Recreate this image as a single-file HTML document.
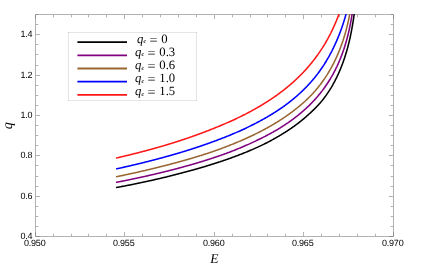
<!DOCTYPE html>
<html><head><meta charset="utf-8"><title>plot</title><style>html,body{margin:0;padding:0;background:#fff;overflow:hidden}svg{display:block;will-change:transform;text-rendering:geometricPrecision}</style></head><body>
<svg width="432" height="269" viewBox="0 0 432 269">
<defs><clipPath id="c"><rect x="35.50" y="14.05" width="358.00" height="222.05"/></clipPath></defs>
<rect width="432" height="269" fill="#fff"/>
<g stroke="#666666" stroke-opacity="0.5" stroke-width="1" fill="none">
<rect x="35.50" y="14.50" width="358.00" height="222.00"/>
<path d="M53.50,236.00 v-2.30 M53.50,15.00 v2.30 M71.50,236.00 v-2.30 M71.50,15.00 v2.30 M88.50,236.00 v-2.30 M88.50,15.00 v2.30 M106.50,236.00 v-2.30 M106.50,15.00 v2.30 M124.50,236.00 v-4.10 M124.50,15.00 v4.10 M142.50,236.00 v-2.30 M142.50,15.00 v2.30 M160.50,236.00 v-2.30 M160.50,15.00 v2.30 M178.50,236.00 v-2.30 M178.50,15.00 v2.30 M196.50,236.00 v-2.30 M196.50,15.00 v2.30 M214.50,236.00 v-4.10 M214.50,15.00 v4.10 M232.50,236.00 v-2.30 M232.50,15.00 v2.30 M250.50,236.00 v-2.30 M250.50,15.00 v2.30 M267.50,236.00 v-2.30 M267.50,15.00 v2.30 M285.50,236.00 v-2.30 M285.50,15.00 v2.30 M303.50,236.00 v-4.10 M303.50,15.00 v4.10 M321.50,236.00 v-2.30 M321.50,15.00 v2.30 M339.50,236.00 v-2.30 M339.50,15.00 v2.30 M357.50,236.00 v-2.30 M357.50,15.00 v2.30 M375.50,236.00 v-2.30 M375.50,15.00 v2.30 M36.00,226.50 h2.30 M393.00,226.50 h-2.30 M36.00,216.50 h2.30 M393.00,216.50 h-2.30 M36.00,206.50 h2.30 M393.00,206.50 h-2.30 M36.00,196.50 h4.10 M393.00,196.50 h-4.10 M36.00,186.50 h2.30 M393.00,186.50 h-2.30 M36.00,176.50 h2.30 M393.00,176.50 h-2.30 M36.00,165.50 h2.30 M393.00,165.50 h-2.30 M36.00,155.50 h4.10 M393.00,155.50 h-4.10 M36.00,145.50 h2.30 M393.00,145.50 h-2.30 M36.00,135.50 h2.30 M393.00,135.50 h-2.30 M36.00,125.50 h2.30 M393.00,125.50 h-2.30 M36.00,115.50 h4.10 M393.00,115.50 h-4.10 M36.00,105.50 h2.30 M393.00,105.50 h-2.30 M36.00,95.50 h2.30 M393.00,95.50 h-2.30 M36.00,85.50 h2.30 M393.00,85.50 h-2.30 M36.00,75.50 h4.10 M393.00,75.50 h-4.10 M36.00,65.50 h2.30 M393.00,65.50 h-2.30 M36.00,54.50 h2.30 M393.00,54.50 h-2.30 M36.00,44.50 h2.30 M393.00,44.50 h-2.30 M36.00,34.50 h4.10 M393.00,34.50 h-4.10 M36.00,24.50 h2.30 M393.00,24.50 h-2.30 M36.00,14.50 h2.00 M36.00,236.50 h3.90 M393.00,14.50 h-2.00 M393.00,236.50 h-3.90 M35.50,236.00 v-3.90 M35.50,15.00 v3.90 M393.50,236.00 v-3.90 M393.50,15.00 v3.90"/>
</g>
<g clip-path="url(#c)" fill="none" stroke-width="1.55" stroke-linejoin="round">
<path d="M116.05,187.58 L116.64,187.47 L117.23,187.36 L117.82,187.25 L118.41,187.15 L119.00,187.04 L119.59,186.93 L120.18,186.82 L120.77,186.71 L121.36,186.59 L121.95,186.48 L122.53,186.37 L123.12,186.26 L123.71,186.15 L124.30,186.04 L124.89,185.92 L125.48,185.81 L126.07,185.70 L126.66,185.58 L127.25,185.47 L127.84,185.35 L128.43,185.24 L129.02,185.12 L129.60,185.00 L130.19,184.89 L130.78,184.77 L131.37,184.65 L131.96,184.53 L132.55,184.42 L133.13,184.30 L133.72,184.18 L134.31,184.06 L134.90,183.94 L135.49,183.82 L136.07,183.70 L136.66,183.57 L137.25,183.45 L137.84,183.33 L138.42,183.21 L139.01,183.09 L139.60,182.96 L140.18,182.84 L140.77,182.71 L141.36,182.59 L141.95,182.47 L142.53,182.34 L143.12,182.22 L143.71,182.09 L144.29,181.96 L144.88,181.84 L145.47,181.71 L146.05,181.58 L146.64,181.46 L147.22,181.33 L147.81,181.20 L148.40,181.07 L148.98,180.94 L149.57,180.81 L150.15,180.68 L150.74,180.55 L151.33,180.42 L151.91,180.29 L152.50,180.16 L153.08,180.03 L153.67,179.90 L154.25,179.76 L154.84,179.63 L155.42,179.50 L156.01,179.36 L156.59,179.23 L157.18,179.10 L157.76,178.96 L158.35,178.83 L158.93,178.69 L159.52,178.56 L160.10,178.42 L160.68,178.28 L161.27,178.15 L161.85,178.01 L162.44,177.87 L163.02,177.73 L163.60,177.59 L164.19,177.45 L164.77,177.31 L165.35,177.17 L165.94,177.03 L166.52,176.89 L167.10,176.75 L167.68,176.60 L168.27,176.46 L168.85,176.31 L169.43,176.17 L170.01,176.02 L170.59,175.87 L171.18,175.72 L171.76,175.57 L172.34,175.42 L172.92,175.27 L173.50,175.12 L174.08,174.97 L174.66,174.82 L175.24,174.67 L175.82,174.51 L176.40,174.36 L176.98,174.21 L177.56,174.05 L178.14,173.90 L178.72,173.75 L179.30,173.60 L179.88,173.44 L180.46,173.29 L181.04,173.14 L181.62,172.98 L182.20,172.83 L182.78,172.68 L183.36,172.53 L183.94,172.37 L184.52,172.22 L185.10,172.07 L185.68,171.92 L186.26,171.76 L186.84,171.61 L187.42,171.46 L188.00,171.30 L188.58,171.15 L189.16,170.99 L189.74,170.84 L190.32,170.68 L190.90,170.53 L191.48,170.37 L192.06,170.21 L192.64,170.06 L193.22,169.90 L193.80,169.74 L194.38,169.58 L194.95,169.42 L195.53,169.26 L196.11,169.09 L196.69,168.93 L197.26,168.77 L197.84,168.60 L198.42,168.44 L198.99,168.27 L199.57,168.10 L200.15,167.93 L200.72,167.76 L201.30,167.59 L201.87,167.42 L202.45,167.25 L203.02,167.08 L203.60,166.91 L204.17,166.74 L204.75,166.56 L205.32,166.39 L205.89,166.21 L206.47,166.04 L207.04,165.86 L207.61,165.68 L208.19,165.50 L208.76,165.33 L209.33,165.15 L209.91,164.97 L210.48,164.79 L211.05,164.61 L211.62,164.43 L212.20,164.25 L212.77,164.07 L213.34,163.89 L213.91,163.71 L214.48,163.53 L215.06,163.35 L215.63,163.16 L216.20,162.98 L216.77,162.80 L217.34,162.61 L217.91,162.43 L218.48,162.24 L219.05,162.06 L219.62,161.87 L220.19,161.68 L220.76,161.50 L221.33,161.31 L221.90,161.12 L222.47,160.93 L223.04,160.74 L223.61,160.55 L224.18,160.35 L224.74,160.16 L225.31,159.96 L225.88,159.77 L226.45,159.57 L227.01,159.37 L227.58,159.18 L228.14,158.98 L228.71,158.78 L229.28,158.57 L229.84,158.37 L230.41,158.17 L230.97,157.97 L231.53,157.76 L232.10,157.56 L232.66,157.35 L233.22,157.14 L233.79,156.94 L234.35,156.73 L234.91,156.52 L235.47,156.31 L236.04,156.10 L236.60,155.89 L237.16,155.67 L237.72,155.46 L238.28,155.25 L238.84,155.03 L239.40,154.81 L239.96,154.60 L240.52,154.38 L241.08,154.16 L241.64,153.94 L242.19,153.72 L242.75,153.50 L243.31,153.28 L243.87,153.05 L244.42,152.83 L244.98,152.61 L245.53,152.38 L246.09,152.15 L246.64,151.93 L247.20,151.70 L247.75,151.47 L248.31,151.24 L248.86,151.01 L249.41,150.77 L249.97,150.54 L250.52,150.31 L251.07,150.07 L251.62,149.84 L252.17,149.60 L252.73,149.36 L253.28,149.12 L253.83,148.88 L254.37,148.64 L254.92,148.40 L255.47,148.15 L256.02,147.91 L256.57,147.66 L257.11,147.41 L257.66,147.17 L258.20,146.92 L258.75,146.66 L259.29,146.41 L259.84,146.16 L260.38,145.90 L260.92,145.64 L261.46,145.39 L262.00,145.13 L262.54,144.86 L263.08,144.60 L263.62,144.34 L264.16,144.07 L264.70,143.80 L265.23,143.53 L265.77,143.26 L266.30,142.99 L266.84,142.72 L267.37,142.44 L267.90,142.16 L268.43,141.89 L268.96,141.61 L269.49,141.32 L270.02,141.04 L270.55,140.76 L271.08,140.47 L271.61,140.19 L272.13,139.90 L272.66,139.61 L273.19,139.32 L273.71,139.03 L274.23,138.74 L274.76,138.44 L275.28,138.15 L275.80,137.85 L276.32,137.55 L276.84,137.25 L277.36,136.95 L277.88,136.65 L278.40,136.35 L278.91,136.04 L279.43,135.74 L279.95,135.43 L280.46,135.12 L280.97,134.81 L281.49,134.50 L282.00,134.19 L282.51,133.88 L283.02,133.56 L283.53,133.25 L284.04,132.93 L284.55,132.61 L285.06,132.29 L285.57,131.97 L286.07,131.65 L286.58,131.32 L287.08,131.00 L287.58,130.67 L288.08,130.34 L288.59,130.01 L289.09,129.68 L289.58,129.35 L290.08,129.01 L290.58,128.67 L291.08,128.34 L291.57,128.00 L292.06,127.66 L292.56,127.31 L293.05,126.97 L293.54,126.62 L294.02,126.27 L294.51,125.92 L295.00,125.57 L295.48,125.22 L295.97,124.86 L296.45,124.50 L296.93,124.14 L297.41,123.78 L297.89,123.42 L298.36,123.06 L298.84,122.69 L299.31,122.32 L299.78,121.95 L300.25,121.58 L300.72,121.20 L301.19,120.83 L301.66,120.45 L302.12,120.07 L302.59,119.69 L303.05,119.31 L303.51,118.92 L303.97,118.54 L304.43,118.15 L304.88,117.76 L305.34,117.37 L305.79,116.98 L306.24,116.58 L306.69,116.19 L307.14,115.79 L307.59,115.39 L308.04,114.99 L308.49,114.59 L308.93,114.19 L309.37,113.78 L309.82,113.38 L310.26,112.97 L310.70,112.56 L311.14,112.15 L311.57,111.74 L312.01,111.33 L312.44,110.92 L312.88,110.50 L313.31,110.09 L313.74,109.67 L314.17,109.25 L314.59,108.83 L315.02,108.40 L315.44,107.98 L315.86,107.55 L316.28,107.12 L316.70,106.69 L317.11,106.26 L317.53,105.82 L317.94,105.38 L318.35,104.94 L318.75,104.50 L319.15,104.05 L319.55,103.61 L319.95,103.16 L320.34,102.71 L320.74,102.25 L321.12,101.79 L321.51,101.33 L321.89,100.87 L322.27,100.41 L322.65,99.94 L323.02,99.47 L323.40,99.00 L323.76,98.53 L324.13,98.05 L324.49,97.57 L324.85,97.09 L325.21,96.61 L325.56,96.13 L325.91,95.64 L326.26,95.15 L326.61,94.66 L326.95,94.17 L327.29,93.67 L327.63,93.18 L327.96,92.68 L328.29,92.18 L328.62,91.68 L328.95,91.17 L329.27,90.67 L329.60,90.16 L329.92,89.66 L330.23,89.15 L330.55,88.63 L330.86,88.12 L331.17,87.61 L331.47,87.09 L331.78,86.58 L332.08,86.06 L332.38,85.54 L332.68,85.02 L332.97,84.49 L333.26,83.97 L333.55,83.44 L333.84,82.92 L334.13,82.39 L334.41,81.86 L334.69,81.33 L334.97,80.80 L335.24,80.27 L335.52,79.73 L335.79,79.20 L336.06,78.66 L336.32,78.12 L336.59,77.58 L336.85,77.04 L337.11,76.50 L337.37,75.96 L337.62,75.42 L337.88,74.87 L338.13,74.33 L338.38,73.78 L338.62,73.24 L338.87,72.69 L339.11,72.14 L339.35,71.59 L339.59,71.04 L339.82,70.49 L340.06,69.93 L340.29,69.38 L340.52,68.83 L340.75,68.27 L340.97,67.72 L341.19,67.16 L341.41,66.60 L341.63,66.04 L341.85,65.48 L342.06,64.92 L342.28,64.36 L342.49,63.80 L342.70,63.24 L342.90,62.67 L343.11,62.11 L343.31,61.54 L343.51,60.98 L343.71,60.41 L343.90,59.84 L344.10,59.28 L344.29,58.71 L344.48,58.14 L344.67,57.57 L344.86,57.00 L345.04,56.43 L345.23,55.86 L345.41,55.29 L345.59,54.71 L345.76,54.14 L345.94,53.57 L346.11,52.99 L346.28,52.42 L346.45,51.84 L346.62,51.27 L346.79,50.69 L346.95,50.11 L347.12,49.53 L347.28,48.96 L347.44,48.38 L347.59,47.80 L347.75,47.22 L347.90,46.64 L348.06,46.06 L348.21,45.48 L348.36,44.90 L348.50,44.32 L348.65,43.73 L348.79,43.15 L348.94,42.57 L349.08,41.99 L349.22,41.40 L349.36,40.82 L349.49,40.23 L349.63,39.65 L349.76,39.06 L349.89,38.48 L350.02,37.89 L350.15,37.31 L350.28,36.72 L350.40,36.13 L350.53,35.55 L350.65,34.96 L350.77,34.37 L350.89,33.79 L351.01,33.20 L351.13,32.61 L351.24,32.02 L351.36,31.43 L351.47,30.84 L351.58,30.25 L351.70,29.66 L351.80,29.07 L351.91,28.48 L352.02,27.89 L352.12,27.30 L352.23,26.71 L352.33,26.12 L352.43,25.53 L352.53,24.94 L352.63,24.34 L352.73,23.75 L352.83,23.16 L352.92,22.57 L353.02,21.98 L353.11,21.38 L353.21,20.79 L353.30,20.20 L353.39,19.60 L353.48,19.01 L353.56,18.42 L353.65,17.82 L353.74,17.23 L353.82,16.64 L353.91,16.04 L353.99,15.45 L354.07,14.85 L354.16,14.26 L354.24,13.66 L354.32,13.07 L354.39,12.48 L354.47,11.88 L354.55,11.29 L354.63,10.69 L354.70,10.10 L354.78,9.50 L354.85,8.90 L354.92,8.31 L355.00,7.71 L355.07,7.12 L355.14,6.52 L355.21,5.93" stroke="#000000"/>
<path d="M116.00,182.43 L116.59,182.31 L117.18,182.19 L117.77,182.07 L118.36,181.96 L118.95,181.84 L119.53,181.72 L120.12,181.60 L120.71,181.48 L121.30,181.37 L121.89,181.25 L122.48,181.13 L123.06,181.01 L123.65,180.89 L124.24,180.77 L124.83,180.65 L125.42,180.53 L126.00,180.41 L126.59,180.29 L127.18,180.17 L127.77,180.05 L128.35,179.93 L128.94,179.81 L129.53,179.69 L130.12,179.57 L130.70,179.44 L131.29,179.32 L131.88,179.20 L132.47,179.08 L133.05,178.95 L133.64,178.83 L134.23,178.70 L134.81,178.58 L135.40,178.45 L135.99,178.33 L136.58,178.20 L137.16,178.08 L137.75,177.95 L138.33,177.83 L138.92,177.70 L139.51,177.57 L140.09,177.45 L140.68,177.32 L141.27,177.19 L141.85,177.06 L142.44,176.93 L143.02,176.80 L143.61,176.67 L144.20,176.54 L144.78,176.41 L145.37,176.28 L145.95,176.15 L146.54,176.02 L147.12,175.89 L147.71,175.76 L148.29,175.63 L148.88,175.49 L149.46,175.36 L150.05,175.23 L150.63,175.09 L151.22,174.96 L151.80,174.82 L152.39,174.69 L152.97,174.55 L153.56,174.42 L154.14,174.28 L154.73,174.14 L155.31,174.01 L155.89,173.87 L156.48,173.73 L157.06,173.60 L157.65,173.46 L158.23,173.32 L158.81,173.18 L159.40,173.04 L159.98,172.90 L160.56,172.76 L161.15,172.62 L161.73,172.48 L162.31,172.33 L162.90,172.19 L163.48,172.05 L164.06,171.90 L164.64,171.76 L165.23,171.62 L165.81,171.47 L166.39,171.33 L166.97,171.18 L167.55,171.04 L168.14,170.89 L168.72,170.74 L169.30,170.60 L169.88,170.45 L170.46,170.30 L171.04,170.15 L171.63,170.00 L172.21,169.85 L172.79,169.70 L173.37,169.55 L173.95,169.40 L174.53,169.25 L175.11,169.10 L175.69,168.95 L176.27,168.79 L176.85,168.64 L177.43,168.49 L178.01,168.33 L178.59,168.18 L179.17,168.02 L179.75,167.87 L180.33,167.71 L180.91,167.55 L181.49,167.40 L182.07,167.24 L182.65,167.08 L183.22,166.92 L183.80,166.76 L184.38,166.60 L184.96,166.44 L185.54,166.28 L186.12,166.12 L186.69,165.96 L187.27,165.80 L187.85,165.64 L188.43,165.47 L189.00,165.31 L189.58,165.15 L190.16,164.98 L190.73,164.82 L191.31,164.65 L191.89,164.48 L192.46,164.32 L193.04,164.15 L193.62,163.98 L194.19,163.81 L194.77,163.65 L195.34,163.48 L195.92,163.31 L196.49,163.14 L197.07,162.96 L197.64,162.79 L198.22,162.62 L198.79,162.45 L199.37,162.27 L199.94,162.10 L200.52,161.93 L201.09,161.75 L201.66,161.57 L202.24,161.40 L202.81,161.22 L203.38,161.04 L203.96,160.87 L204.53,160.69 L205.10,160.51 L205.67,160.33 L206.25,160.15 L206.82,159.97 L207.39,159.78 L207.96,159.60 L208.53,159.42 L209.10,159.23 L209.67,159.05 L210.25,158.87 L210.82,158.68 L211.39,158.49 L211.96,158.31 L212.53,158.12 L213.10,157.93 L213.67,157.74 L214.23,157.55 L214.80,157.36 L215.37,157.17 L215.94,156.98 L216.51,156.79 L217.08,156.59 L217.65,156.40 L218.21,156.21 L218.78,156.01 L219.35,155.82 L219.91,155.62 L220.48,155.42 L221.05,155.22 L221.61,155.02 L222.18,154.83 L222.75,154.62 L223.31,154.42 L223.88,154.22 L224.44,154.02 L225.00,153.81 L225.57,153.61 L226.13,153.40 L226.69,153.20 L227.26,152.99 L227.82,152.78 L228.38,152.57 L228.94,152.36 L229.50,152.15 L230.07,151.93 L230.63,151.72 L231.19,151.50 L231.75,151.29 L232.31,151.07 L232.86,150.85 L233.42,150.63 L233.98,150.41 L234.54,150.19 L235.10,149.97 L235.65,149.74 L236.21,149.52 L236.76,149.29 L237.32,149.07 L237.88,148.84 L238.43,148.61 L238.99,148.38 L239.54,148.15 L240.09,147.92 L240.65,147.69 L241.20,147.46 L241.75,147.22 L242.30,146.99 L242.86,146.75 L243.41,146.52 L243.96,146.28 L244.51,146.04 L245.06,145.80 L245.61,145.56 L246.16,145.32 L246.71,145.08 L247.26,144.84 L247.80,144.59 L248.35,144.35 L248.90,144.10 L249.45,143.86 L249.99,143.61 L250.54,143.36 L251.09,143.11 L251.63,142.86 L252.18,142.61 L252.72,142.36 L253.26,142.11 L253.81,141.85 L254.35,141.60 L254.89,141.34 L255.44,141.08 L255.98,140.83 L256.52,140.57 L257.06,140.31 L257.60,140.05 L258.14,139.79 L258.68,139.53 L259.22,139.26 L259.76,139.00 L260.30,138.74 L260.84,138.47 L261.38,138.21 L261.91,137.94 L262.45,137.67 L262.99,137.40 L263.52,137.13 L264.06,136.86 L264.59,136.59 L265.13,136.32 L265.66,136.04 L266.19,135.77 L266.73,135.49 L267.26,135.21 L267.79,134.93 L268.32,134.65 L268.85,134.37 L269.38,134.09 L269.91,133.80 L270.43,133.52 L270.96,133.23 L271.49,132.94 L272.01,132.65 L272.54,132.36 L273.06,132.07 L273.58,131.77 L274.10,131.48 L274.63,131.18 L275.15,130.88 L275.67,130.58 L276.18,130.28 L276.70,129.97 L277.22,129.67 L277.73,129.36 L278.25,129.05 L278.76,128.74 L279.27,128.43 L279.78,128.12 L280.29,127.80 L280.80,127.48 L281.31,127.16 L281.82,126.84 L282.33,126.52 L282.83,126.20 L283.34,125.87 L283.84,125.55 L284.34,125.22 L284.84,124.89 L285.34,124.56 L285.84,124.22 L286.34,123.89 L286.84,123.55 L287.33,123.22 L287.83,122.88 L288.32,122.53 L288.81,122.19 L289.30,121.85 L289.79,121.50 L290.28,121.15 L290.77,120.80 L291.26,120.45 L291.74,120.10 L292.23,119.75 L292.71,119.39 L293.19,119.03 L293.67,118.67 L294.15,118.31 L294.63,117.95 L295.11,117.58 L295.58,117.22 L296.05,116.85 L296.53,116.48 L297.00,116.11 L297.47,115.73 L297.94,115.36 L298.40,114.98 L298.87,114.60 L299.33,114.22 L299.80,113.84 L300.26,113.46 L300.72,113.07 L301.18,112.69 L301.63,112.30 L302.09,111.91 L302.54,111.52 L303.00,111.12 L303.45,110.73 L303.90,110.33 L304.34,109.93 L304.79,109.53 L305.24,109.13 L305.68,108.72 L306.12,108.32 L306.56,107.91 L307.00,107.50 L307.44,107.09 L307.87,106.68 L308.31,106.26 L308.74,105.85 L309.17,105.43 L309.60,105.01 L310.02,104.59 L310.45,104.16 L310.87,103.74 L311.29,103.31 L311.71,102.88 L312.13,102.45 L312.55,102.02 L312.96,101.58 L313.38,101.15 L313.79,100.71 L314.19,100.27 L314.60,99.83 L315.01,99.39 L315.41,98.94 L315.81,98.50 L316.21,98.05 L316.60,97.60 L317.00,97.15 L317.39,96.69 L317.78,96.24 L318.17,95.78 L318.56,95.32 L318.94,94.86 L319.32,94.40 L319.70,93.93 L320.08,93.46 L320.45,93.00 L320.83,92.53 L321.20,92.06 L321.57,91.58 L321.94,91.11 L322.30,90.63 L322.66,90.15 L323.02,89.67 L323.38,89.19 L323.74,88.71 L324.09,88.22 L324.44,87.74 L324.79,87.25 L325.14,86.76 L325.48,86.27 L325.82,85.78 L326.16,85.28 L326.50,84.79 L326.84,84.29 L327.17,83.79 L327.50,83.29 L327.83,82.79 L328.16,82.28 L328.48,81.78 L328.80,81.27 L329.12,80.76 L329.44,80.25 L329.75,79.74 L330.07,79.23 L330.38,78.72 L330.69,78.20 L330.99,77.69 L331.29,77.17 L331.60,76.65 L331.89,76.13 L332.19,75.61 L332.49,75.09 L332.78,74.56 L333.07,74.04 L333.36,73.51 L333.64,72.98 L333.92,72.45 L334.20,71.92 L334.48,71.39 L334.76,70.86 L335.03,70.33 L335.30,69.79 L335.57,69.25 L335.84,68.72 L336.11,68.18 L336.37,67.64 L336.63,67.10 L336.89,66.56 L337.14,66.01 L337.40,65.47 L337.65,64.93 L337.90,64.38 L338.14,63.83 L338.39,63.28 L338.63,62.74 L338.87,62.19 L339.11,61.64 L339.34,61.08 L339.58,60.53 L339.81,59.98 L340.04,59.42 L340.27,58.87 L340.49,58.31 L340.71,57.75 L340.93,57.20 L341.15,56.64 L341.37,56.08 L341.58,55.52 L341.80,54.96 L342.01,54.39 L342.21,53.83 L342.42,53.27 L342.62,52.70 L342.83,52.14 L343.03,51.57 L343.22,51.01 L343.42,50.44 L343.61,49.87 L343.81,49.30 L343.99,48.73 L344.18,48.16 L344.37,47.59 L344.55,47.02 L344.73,46.45 L344.91,45.88 L345.09,45.31 L345.27,44.73 L345.44,44.16 L345.62,43.58 L345.79,43.01 L345.95,42.43 L346.12,41.86 L346.29,41.28 L346.45,40.70 L346.61,40.12 L346.77,39.55 L346.93,38.97 L347.08,38.39 L347.24,37.81 L347.39,37.23 L347.54,36.65 L347.69,36.06 L347.84,35.48 L347.98,34.90 L348.12,34.32 L348.27,33.74 L348.41,33.15 L348.55,32.57 L348.68,31.98 L348.82,31.40 L348.95,30.81 L349.08,30.23 L349.21,29.64 L349.34,29.06 L349.47,28.47 L349.60,27.88 L349.72,27.30 L349.84,26.71 L349.96,26.12 L350.08,25.53 L350.20,24.95 L350.32,24.36 L350.43,23.77 L350.55,23.18 L350.66,22.59 L350.77,22.00 L350.88,21.41 L350.99,20.82 L351.10,20.23 L351.20,19.64 L351.31,19.05 L351.41,18.46 L351.51,17.87 L351.61,17.27 L351.71,16.68 L351.81,16.09 L351.90,15.50 L352.00,14.91 L352.09,14.31 L352.19,13.72 L352.28,13.13 L352.37,12.53 L352.46,11.94 L352.54,11.35 L352.63,10.75 L352.72,10.16 L352.80,9.57 L352.88,8.97 L352.97,8.38 L353.05,7.78 L353.13,7.19 L353.21,6.59 L353.29,6.00" stroke="#800080"/>
<path d="M116.08,176.85 L116.67,176.73 L117.26,176.61 L117.85,176.48 L118.43,176.36 L119.02,176.24 L119.61,176.11 L120.19,175.99 L120.78,175.86 L121.37,175.74 L121.95,175.62 L122.54,175.49 L123.13,175.37 L123.72,175.24 L124.30,175.11 L124.89,174.99 L125.48,174.86 L126.06,174.74 L126.65,174.61 L127.23,174.48 L127.82,174.36 L128.41,174.23 L128.99,174.10 L129.58,173.97 L130.17,173.84 L130.75,173.71 L131.34,173.59 L131.92,173.46 L132.51,173.33 L133.10,173.20 L133.68,173.07 L134.27,172.94 L134.85,172.81 L135.44,172.67 L136.02,172.54 L136.61,172.41 L137.19,172.28 L137.78,172.15 L138.36,172.01 L138.95,171.88 L139.53,171.75 L140.12,171.61 L140.70,171.48 L141.29,171.34 L141.87,171.21 L142.46,171.07 L143.04,170.94 L143.63,170.80 L144.21,170.66 L144.79,170.53 L145.38,170.39 L145.96,170.25 L146.55,170.12 L147.13,169.98 L147.71,169.84 L148.30,169.70 L148.88,169.56 L149.47,169.42 L150.05,169.28 L150.63,169.14 L151.22,169.00 L151.80,168.86 L152.38,168.72 L152.96,168.58 L153.55,168.43 L154.13,168.29 L154.71,168.15 L155.30,168.01 L155.88,167.86 L156.46,167.72 L157.04,167.57 L157.63,167.43 L158.21,167.29 L158.79,167.14 L159.37,167.00 L159.95,166.85 L160.54,166.70 L161.12,166.56 L161.70,166.41 L162.28,166.26 L162.86,166.12 L163.45,165.97 L164.03,165.82 L164.61,165.67 L165.19,165.52 L165.77,165.38 L166.35,165.23 L166.93,165.08 L167.51,164.93 L168.10,164.78 L168.68,164.63 L169.26,164.48 L169.84,164.32 L170.42,164.17 L171.00,164.02 L171.58,163.87 L172.16,163.72 L172.74,163.56 L173.32,163.41 L173.90,163.25 L174.48,163.10 L175.06,162.94 L175.64,162.79 L176.22,162.63 L176.80,162.48 L177.38,162.32 L177.95,162.16 L178.53,162.00 L179.11,161.85 L179.69,161.69 L180.27,161.53 L180.85,161.37 L181.43,161.21 L182.00,161.05 L182.58,160.89 L183.16,160.72 L183.74,160.56 L184.31,160.40 L184.89,160.24 L185.47,160.07 L186.05,159.91 L186.62,159.74 L187.20,159.58 L187.78,159.41 L188.35,159.24 L188.93,159.08 L189.51,158.91 L190.08,158.74 L190.66,158.57 L191.23,158.41 L191.81,158.24 L192.38,158.07 L192.96,157.90 L193.53,157.72 L194.11,157.55 L194.68,157.38 L195.26,157.21 L195.83,157.03 L196.41,156.86 L196.98,156.69 L197.55,156.51 L198.13,156.33 L198.70,156.16 L199.28,155.98 L199.85,155.80 L200.42,155.63 L200.99,155.45 L201.57,155.27 L202.14,155.09 L202.71,154.91 L203.28,154.73 L203.85,154.54 L204.43,154.36 L205.00,154.18 L205.57,153.99 L206.14,153.81 L206.71,153.62 L207.28,153.44 L207.85,153.25 L208.42,153.06 L208.99,152.87 L209.56,152.68 L210.13,152.49 L210.70,152.30 L211.26,152.11 L211.83,151.91 L212.40,151.72 L212.97,151.52 L213.53,151.33 L214.10,151.13 L214.67,150.93 L215.23,150.73 L215.80,150.53 L216.36,150.33 L216.93,150.13 L217.49,149.93 L218.06,149.73 L218.62,149.52 L219.19,149.32 L219.75,149.11 L220.31,148.90 L220.88,148.69 L221.44,148.49 L222.00,148.28 L222.56,148.07 L223.12,147.86 L223.69,147.64 L224.25,147.43 L224.81,147.22 L225.37,147.00 L225.93,146.79 L226.49,146.57 L227.05,146.36 L227.61,146.14 L228.17,145.92 L228.73,145.70 L229.28,145.48 L229.84,145.26 L230.40,145.04 L230.96,144.82 L231.51,144.60 L232.07,144.37 L232.63,144.15 L233.18,143.92 L233.74,143.70 L234.29,143.47 L234.85,143.24 L235.40,143.01 L235.96,142.78 L236.51,142.55 L237.07,142.32 L237.62,142.09 L238.17,141.86 L238.72,141.62 L239.28,141.39 L239.83,141.15 L240.38,140.92 L240.93,140.68 L241.48,140.44 L242.03,140.20 L242.58,139.96 L243.13,139.72 L243.68,139.48 L244.23,139.24 L244.78,138.99 L245.33,138.75 L245.87,138.50 L246.42,138.26 L246.97,138.01 L247.51,137.76 L248.06,137.51 L248.60,137.26 L249.15,137.01 L249.69,136.76 L250.24,136.50 L250.78,136.25 L251.32,135.99 L251.86,135.73 L252.41,135.48 L252.95,135.22 L253.49,134.96 L254.03,134.70 L254.57,134.44 L255.11,134.17 L255.65,133.91 L256.19,133.64 L256.72,133.38 L257.26,133.11 L257.80,132.84 L258.33,132.57 L258.87,132.30 L259.40,132.03 L259.94,131.76 L260.47,131.48 L261.00,131.21 L261.54,130.93 L262.07,130.65 L262.60,130.37 L263.13,130.09 L263.66,129.81 L264.19,129.53 L264.72,129.24 L265.24,128.96 L265.77,128.67 L266.30,128.38 L266.82,128.09 L267.35,127.80 L267.87,127.51 L268.40,127.22 L268.92,126.93 L269.44,126.63 L269.96,126.33 L270.48,126.04 L271.00,125.74 L271.52,125.44 L272.04,125.13 L272.56,124.83 L273.08,124.53 L273.59,124.22 L274.11,123.91 L274.62,123.60 L275.14,123.29 L275.65,122.98 L276.16,122.67 L276.67,122.36 L277.18,122.04 L277.69,121.72 L278.20,121.41 L278.71,121.09 L279.22,120.77 L279.72,120.44 L280.23,120.12 L280.73,119.80 L281.24,119.47 L281.74,119.14 L282.24,118.81 L282.74,118.48 L283.24,118.15 L283.74,117.82 L284.24,117.48 L284.73,117.14 L285.23,116.81 L285.72,116.47 L286.22,116.13 L286.71,115.78 L287.20,115.44 L287.69,115.09 L288.18,114.75 L288.67,114.40 L289.16,114.05 L289.64,113.70 L290.13,113.34 L290.61,112.99 L291.10,112.63 L291.58,112.27 L292.06,111.91 L292.54,111.55 L293.01,111.19 L293.49,110.83 L293.97,110.46 L294.44,110.09 L294.92,109.73 L295.39,109.35 L295.86,108.98 L296.33,108.61 L296.80,108.23 L297.26,107.86 L297.73,107.48 L298.19,107.10 L298.66,106.72 L299.12,106.34 L299.58,105.95 L300.04,105.57 L300.50,105.18 L300.95,104.79 L301.41,104.40 L301.86,104.00 L302.31,103.61 L302.76,103.21 L303.21,102.82 L303.66,102.42 L304.11,102.02 L304.55,101.61 L305.00,101.21 L305.44,100.80 L305.88,100.39 L306.32,99.98 L306.75,99.57 L307.19,99.16 L307.62,98.74 L308.05,98.33 L308.48,97.91 L308.91,97.49 L309.33,97.06 L309.76,96.64 L310.18,96.21 L310.60,95.78 L311.02,95.35 L311.43,94.92 L311.85,94.49 L312.26,94.05 L312.67,93.61 L313.07,93.17 L313.48,92.73 L313.88,92.28 L314.28,91.84 L314.68,91.39 L315.08,90.94 L315.47,90.48 L315.86,90.03 L316.25,89.57 L316.64,89.11 L317.02,88.65 L317.41,88.19 L317.79,87.73 L318.16,87.26 L318.54,86.79 L318.91,86.32 L319.29,85.85 L319.65,85.38 L320.02,84.90 L320.39,84.43 L320.75,83.95 L321.11,83.47 L321.46,82.99 L321.82,82.50 L322.17,82.02 L322.52,81.53 L322.87,81.04 L323.22,80.55 L323.56,80.06 L323.91,79.57 L324.25,79.08 L324.58,78.58 L324.92,78.08 L325.25,77.58 L325.58,77.08 L325.91,76.58 L326.24,76.08 L326.56,75.57 L326.89,75.07 L327.21,74.56 L327.52,74.05 L327.84,73.54 L328.15,73.03 L328.46,72.52 L328.77,72.00 L329.08,71.49 L329.39,70.97 L329.69,70.45 L329.99,69.93 L330.29,69.41 L330.58,68.89 L330.88,68.37 L331.17,67.84 L331.46,67.32 L331.75,66.79 L332.03,66.26 L332.31,65.73 L332.59,65.20 L332.87,64.67 L333.15,64.14 L333.42,63.61 L333.70,63.07 L333.97,62.54 L334.23,62.00 L334.50,61.46 L334.76,60.92 L335.02,60.38 L335.28,59.84 L335.54,59.30 L335.80,58.76 L336.05,58.21 L336.30,57.67 L336.55,57.12 L336.80,56.57 L337.04,56.03 L337.28,55.48 L337.52,54.93 L337.76,54.38 L338.00,53.82 L338.23,53.27 L338.47,52.72 L338.70,52.17 L338.92,51.61 L339.15,51.05 L339.37,50.50 L339.60,49.94 L339.82,49.38 L340.04,48.82 L340.25,48.26 L340.47,47.70 L340.68,47.14 L340.89,46.58 L341.10,46.02 L341.30,45.45 L341.51,44.89 L341.71,44.33 L341.91,43.76 L342.11,43.19 L342.31,42.63 L342.50,42.06 L342.69,41.49 L342.89,40.92 L343.07,40.35 L343.26,39.78 L343.45,39.21 L343.63,38.64 L343.81,38.07 L343.99,37.50 L344.17,36.92 L344.35,36.35 L344.52,35.78 L344.69,35.20 L344.86,34.63 L345.03,34.05 L345.20,33.47 L345.36,32.90 L345.53,32.32 L345.69,31.74 L345.85,31.16 L346.00,30.58 L346.16,30.01 L346.31,29.43 L346.47,28.85 L346.62,28.26 L346.77,27.68 L346.91,27.10 L347.06,26.52 L347.20,25.94 L347.34,25.35 L347.48,24.77 L347.62,24.19 L347.76,23.60 L347.90,23.02 L348.03,22.43 L348.16,21.85 L348.29,21.26 L348.42,20.68 L348.55,20.09 L348.67,19.50 L348.80,18.92 L348.92,18.33 L349.04,17.74 L349.16,17.15 L349.28,16.57 L349.40,15.98 L349.51,15.39 L349.62,14.80 L349.74,14.21 L349.85,13.62 L349.96,13.03 L350.06,12.44 L350.17,11.85 L350.28,11.26 L350.38,10.67 L350.48,10.08 L350.58,9.48 L350.68,8.89 L350.78,8.30 L350.88,7.71 L350.97,7.12 L351.07,6.52 L351.16,5.93" stroke="#996633"/>
<path d="M116.12,168.92 L116.70,168.79 L117.29,168.67 L117.88,168.54 L118.46,168.42 L119.05,168.29 L119.63,168.16 L120.22,168.03 L120.81,167.90 L121.39,167.77 L121.98,167.64 L122.56,167.51 L123.15,167.38 L123.73,167.25 L124.32,167.12 L124.91,166.99 L125.49,166.85 L126.08,166.72 L126.66,166.59 L127.25,166.45 L127.83,166.32 L128.42,166.19 L129.00,166.05 L129.58,165.92 L130.17,165.78 L130.75,165.64 L131.34,165.51 L131.92,165.37 L132.51,165.23 L133.09,165.10 L133.67,164.96 L134.26,164.82 L134.84,164.68 L135.43,164.54 L136.01,164.40 L136.59,164.26 L137.18,164.12 L137.76,163.98 L138.34,163.84 L138.93,163.70 L139.51,163.56 L140.09,163.42 L140.67,163.28 L141.26,163.13 L141.84,162.99 L142.42,162.85 L143.01,162.70 L143.59,162.56 L144.17,162.41 L144.75,162.27 L145.33,162.12 L145.92,161.98 L146.50,161.83 L147.08,161.69 L147.66,161.54 L148.24,161.39 L148.82,161.24 L149.41,161.09 L149.99,160.95 L150.57,160.80 L151.15,160.65 L151.73,160.50 L152.31,160.35 L152.89,160.20 L153.47,160.04 L154.05,159.89 L154.63,159.74 L155.21,159.59 L155.79,159.44 L156.37,159.28 L156.95,159.13 L157.53,158.98 L158.11,158.82 L158.69,158.67 L159.27,158.51 L159.85,158.36 L160.43,158.20 L161.01,158.04 L161.59,157.89 L162.17,157.73 L162.75,157.57 L163.33,157.42 L163.91,157.26 L164.49,157.10 L165.06,156.94 L165.64,156.78 L166.22,156.62 L166.80,156.46 L167.38,156.30 L167.95,156.14 L168.53,155.98 L169.11,155.82 L169.69,155.65 L170.27,155.49 L170.84,155.33 L171.42,155.16 L172.00,155.00 L172.57,154.83 L173.15,154.67 L173.73,154.50 L174.30,154.34 L174.88,154.17 L175.46,154.00 L176.03,153.83 L176.61,153.67 L177.18,153.50 L177.76,153.33 L178.34,153.16 L178.91,152.99 L179.49,152.82 L180.06,152.64 L180.64,152.47 L181.21,152.30 L181.78,152.13 L182.36,151.95 L182.93,151.78 L183.51,151.60 L184.08,151.43 L184.65,151.25 L185.23,151.08 L185.80,150.90 L186.37,150.72 L186.95,150.54 L187.52,150.36 L188.09,150.18 L188.66,150.00 L189.24,149.82 L189.81,149.64 L190.38,149.46 L190.95,149.28 L191.52,149.09 L192.09,148.91 L192.67,148.73 L193.24,148.54 L193.81,148.36 L194.38,148.17 L194.95,147.98 L195.52,147.80 L196.09,147.61 L196.66,147.42 L197.23,147.23 L197.80,147.04 L198.36,146.85 L198.93,146.66 L199.50,146.47 L200.07,146.27 L200.64,146.08 L201.21,145.89 L201.77,145.69 L202.34,145.50 L202.91,145.30 L203.48,145.11 L204.04,144.91 L204.61,144.71 L205.18,144.52 L205.74,144.32 L206.31,144.12 L206.87,143.92 L207.44,143.72 L208.00,143.52 L208.57,143.32 L209.13,143.11 L209.70,142.91 L210.26,142.71 L210.83,142.51 L211.39,142.30 L211.96,142.10 L212.52,141.89 L213.08,141.69 L213.65,141.48 L214.21,141.27 L214.77,141.07 L215.34,140.86 L215.90,140.65 L216.46,140.44 L217.02,140.23 L217.59,140.02 L218.15,139.81 L218.71,139.60 L219.27,139.38 L219.83,139.17 L220.39,138.96 L220.95,138.74 L221.51,138.53 L222.07,138.31 L222.63,138.09 L223.19,137.88 L223.75,137.66 L224.31,137.44 L224.87,137.22 L225.42,137.00 L225.98,136.78 L226.54,136.55 L227.10,136.33 L227.65,136.11 L228.21,135.88 L228.76,135.66 L229.32,135.43 L229.87,135.20 L230.43,134.97 L230.98,134.74 L231.54,134.51 L232.09,134.28 L232.64,134.05 L233.20,133.81 L233.75,133.58 L234.30,133.35 L234.85,133.11 L235.40,132.87 L235.95,132.63 L236.51,132.40 L237.06,132.16 L237.60,131.91 L238.15,131.67 L238.70,131.43 L239.25,131.19 L239.80,130.94 L240.35,130.70 L240.89,130.45 L241.44,130.20 L241.99,129.95 L242.53,129.70 L243.08,129.45 L243.62,129.20 L244.16,128.95 L244.71,128.69 L245.25,128.44 L245.79,128.18 L246.34,127.93 L246.88,127.67 L247.42,127.41 L247.96,127.15 L248.50,126.89 L249.04,126.63 L249.58,126.36 L250.12,126.10 L250.66,125.83 L251.19,125.56 L251.73,125.30 L252.27,125.03 L252.80,124.76 L253.34,124.49 L253.87,124.22 L254.41,123.94 L254.94,123.67 L255.47,123.39 L256.01,123.12 L256.54,122.84 L257.07,122.56 L257.60,122.28 L258.13,122.00 L258.66,121.72 L259.19,121.43 L259.72,121.15 L260.24,120.86 L260.77,120.58 L261.30,120.29 L261.82,120.00 L262.35,119.71 L262.87,119.42 L263.40,119.13 L263.92,118.83 L264.44,118.54 L264.97,118.24 L265.49,117.95 L266.01,117.65 L266.53,117.35 L267.05,117.05 L267.56,116.74 L268.08,116.44 L268.60,116.14 L269.12,115.83 L269.63,115.52 L270.15,115.22 L270.66,114.91 L271.17,114.60 L271.69,114.28 L272.20,113.97 L272.71,113.66 L273.22,113.34 L273.73,113.02 L274.23,112.70 L274.74,112.38 L275.25,112.06 L275.75,111.74 L276.26,111.41 L276.76,111.09 L277.26,110.76 L277.77,110.43 L278.27,110.10 L278.77,109.77 L279.27,109.43 L279.76,109.10 L280.26,108.76 L280.76,108.42 L281.25,108.08 L281.74,107.74 L282.24,107.40 L282.73,107.05 L283.22,106.71 L283.71,106.36 L284.19,106.01 L284.68,105.66 L285.17,105.31 L285.65,104.95 L286.13,104.60 L286.62,104.24 L287.10,103.88 L287.58,103.52 L288.05,103.16 L288.53,102.80 L289.01,102.43 L289.48,102.06 L289.95,101.69 L290.43,101.32 L290.90,100.95 L291.37,100.57 L291.83,100.20 L292.30,99.82 L292.76,99.44 L293.23,99.06 L293.69,98.68 L294.15,98.29 L294.61,97.91 L295.07,97.52 L295.52,97.13 L295.98,96.74 L296.43,96.35 L296.88,95.95 L297.34,95.56 L297.78,95.16 L298.23,94.76 L298.68,94.36 L299.12,93.96 L299.57,93.55 L300.01,93.15 L300.45,92.74 L300.89,92.33 L301.33,91.92 L301.76,91.51 L302.20,91.09 L302.63,90.68 L303.06,90.26 L303.49,89.84 L303.92,89.42 L304.34,89.00 L304.77,88.57 L305.19,88.15 L305.61,87.72 L306.03,87.29 L306.45,86.86 L306.87,86.43 L307.28,86.00 L307.69,85.56 L308.10,85.12 L308.51,84.68 L308.92,84.24 L309.33,83.80 L309.73,83.36 L310.13,82.91 L310.53,82.47 L310.93,82.02 L311.33,81.57 L311.72,81.11 L312.12,80.66 L312.51,80.21 L312.90,79.75 L313.28,79.29 L313.67,78.83 L314.05,78.37 L314.43,77.90 L314.81,77.44 L315.19,76.97 L315.56,76.50 L315.93,76.03 L316.31,75.56 L316.67,75.09 L317.04,74.61 L317.41,74.14 L317.77,73.66 L318.13,73.18 L318.49,72.70 L318.84,72.22 L319.20,71.73 L319.55,71.25 L319.90,70.76 L320.25,70.27 L320.60,69.78 L320.94,69.29 L321.28,68.80 L321.62,68.30 L321.96,67.81 L322.30,67.31 L322.63,66.81 L322.96,66.31 L323.29,65.81 L323.62,65.31 L323.95,64.80 L324.27,64.30 L324.59,63.79 L324.91,63.28 L325.23,62.78 L325.54,62.26 L325.86,61.75 L326.17,61.24 L326.48,60.73 L326.78,60.21 L327.09,59.69 L327.39,59.18 L327.69,58.66 L327.99,58.14 L328.29,57.62 L328.59,57.10 L328.88,56.57 L329.17,56.05 L329.46,55.52 L329.75,55.00 L330.04,54.47 L330.32,53.94 L330.60,53.41 L330.88,52.88 L331.16,52.35 L331.44,51.82 L331.71,51.28 L331.99,50.75 L332.26,50.21 L332.53,49.68 L332.79,49.14 L333.06,48.60 L333.32,48.06 L333.58,47.52 L333.84,46.98 L334.10,46.44 L334.36,45.90 L334.61,45.35 L334.87,44.81 L335.12,44.27 L335.37,43.72 L335.62,43.17 L335.86,42.63 L336.11,42.08 L336.35,41.53 L336.59,40.98 L336.83,40.43 L337.07,39.88 L337.30,39.33 L337.53,38.77 L337.77,38.22 L338.00,37.67 L338.22,37.11 L338.45,36.56 L338.68,36.00 L338.90,35.44 L339.12,34.89 L339.34,34.33 L339.56,33.77 L339.77,33.21 L339.99,32.65 L340.20,32.09 L340.41,31.53 L340.62,30.96 L340.83,30.40 L341.04,29.84 L341.24,29.27 L341.44,28.71 L341.64,28.14 L341.84,27.58 L342.04,27.01 L342.23,26.44 L342.43,25.87 L342.62,25.31 L342.81,24.74 L343.00,24.17 L343.19,23.60 L343.37,23.03 L343.56,22.46 L343.74,21.88 L343.92,21.31 L344.10,20.74 L344.27,20.17 L344.45,19.59 L344.62,19.02 L344.80,18.44 L344.97,17.87 L345.14,17.29 L345.30,16.72 L345.47,16.14 L345.64,15.56 L345.80,14.98 L345.96,14.41 L346.12,13.83 L346.28,13.25 L346.44,12.67 L346.59,12.09 L346.74,11.51 L346.90,10.93 L347.05,10.35 L347.20,9.77 L347.35,9.19 L347.49,8.61 L347.64,8.02 L347.78,7.44 L347.92,6.86 L348.07,6.28 L348.21,5.69" stroke="#0000ff"/>
<path d="M116.10,158.06 L116.69,157.93 L117.27,157.79 L117.86,157.66 L118.44,157.52 L119.03,157.39 L119.61,157.25 L120.20,157.12 L120.78,156.98 L121.37,156.84 L121.95,156.70 L122.53,156.57 L123.12,156.43 L123.70,156.29 L124.28,156.15 L124.87,156.01 L125.45,155.87 L126.04,155.73 L126.62,155.59 L127.20,155.45 L127.78,155.31 L128.37,155.17 L128.95,155.02 L129.53,154.88 L130.12,154.74 L130.70,154.59 L131.28,154.45 L131.86,154.31 L132.45,154.16 L133.03,154.02 L133.61,153.87 L134.19,153.72 L134.77,153.58 L135.36,153.43 L135.94,153.29 L136.52,153.14 L137.10,152.99 L137.68,152.84 L138.26,152.69 L138.84,152.54 L139.43,152.39 L140.01,152.24 L140.59,152.09 L141.17,151.94 L141.75,151.79 L142.33,151.64 L142.91,151.49 L143.49,151.34 L144.07,151.18 L144.65,151.03 L145.23,150.88 L145.81,150.72 L146.39,150.57 L146.97,150.41 L147.55,150.26 L148.13,150.10 L148.71,149.95 L149.29,149.79 L149.87,149.63 L150.45,149.48 L151.02,149.32 L151.60,149.16 L152.18,149.00 L152.76,148.84 L153.34,148.68 L153.92,148.52 L154.49,148.36 L155.07,148.20 L155.65,148.03 L156.23,147.87 L156.80,147.71 L157.38,147.55 L157.96,147.38 L158.54,147.22 L159.11,147.05 L159.69,146.88 L160.27,146.72 L160.84,146.55 L161.42,146.38 L161.99,146.22 L162.57,146.05 L163.15,145.88 L163.72,145.71 L164.30,145.54 L164.87,145.37 L165.45,145.19 L166.02,145.02 L166.60,144.85 L167.17,144.68 L167.74,144.50 L168.32,144.33 L168.89,144.15 L169.47,143.98 L170.04,143.80 L170.61,143.62 L171.19,143.45 L171.76,143.27 L172.33,143.09 L172.91,142.91 L173.48,142.73 L174.05,142.55 L174.62,142.37 L175.19,142.19 L175.77,142.01 L176.34,141.83 L176.91,141.64 L177.48,141.46 L178.05,141.28 L178.62,141.09 L179.19,140.91 L179.76,140.72 L180.33,140.54 L180.90,140.35 L181.47,140.16 L182.04,139.98 L182.61,139.79 L183.18,139.60 L183.75,139.41 L184.32,139.22 L184.89,139.03 L185.46,138.84 L186.03,138.64 L186.60,138.45 L187.16,138.26 L187.73,138.06 L188.30,137.87 L188.87,137.67 L189.43,137.48 L190.00,137.28 L190.57,137.09 L191.13,136.89 L191.70,136.69 L192.27,136.49 L192.83,136.29 L193.40,136.09 L193.96,135.89 L194.53,135.69 L195.09,135.49 L195.66,135.28 L196.22,135.08 L196.79,134.88 L197.35,134.67 L197.92,134.47 L198.48,134.26 L199.04,134.05 L199.61,133.85 L200.17,133.64 L200.73,133.43 L201.29,133.22 L201.85,133.01 L202.42,132.80 L202.98,132.59 L203.54,132.38 L204.10,132.16 L204.66,131.95 L205.22,131.74 L205.78,131.52 L206.34,131.31 L206.90,131.09 L207.46,130.87 L208.02,130.66 L208.58,130.44 L209.14,130.22 L209.70,130.00 L210.26,129.78 L210.81,129.56 L211.37,129.34 L211.93,129.12 L212.49,128.90 L213.04,128.68 L213.60,128.45 L214.16,128.23 L214.71,128.00 L215.27,127.78 L215.83,127.55 L216.38,127.33 L216.94,127.10 L217.49,126.87 L218.05,126.65 L218.60,126.42 L219.16,126.19 L219.71,125.96 L220.27,125.73 L220.82,125.50 L221.37,125.26 L221.93,125.03 L222.48,124.80 L223.03,124.56 L223.58,124.33 L224.13,124.09 L224.69,123.86 L225.24,123.62 L225.79,123.38 L226.34,123.14 L226.89,122.90 L227.44,122.66 L227.99,122.42 L228.53,122.17 L229.08,121.93 L229.63,121.69 L230.18,121.44 L230.72,121.19 L231.27,120.95 L231.82,120.70 L232.36,120.45 L232.91,120.20 L233.45,119.95 L234.00,119.69 L234.54,119.44 L235.09,119.19 L235.63,118.93 L236.17,118.68 L236.71,118.42 L237.26,118.16 L237.80,117.90 L238.34,117.64 L238.88,117.38 L239.42,117.12 L239.96,116.86 L240.50,116.59 L241.03,116.33 L241.57,116.06 L242.11,115.80 L242.65,115.53 L243.18,115.26 L243.72,114.99 L244.25,114.72 L244.79,114.45 L245.32,114.17 L245.86,113.90 L246.39,113.62 L246.92,113.35 L247.45,113.07 L247.98,112.79 L248.52,112.51 L249.05,112.23 L249.58,111.95 L250.10,111.67 L250.63,111.38 L251.16,111.10 L251.69,110.81 L252.22,110.52 L252.74,110.23 L253.27,109.94 L253.79,109.65 L254.32,109.36 L254.84,109.07 L255.36,108.77 L255.88,108.48 L256.41,108.18 L256.93,107.88 L257.45,107.58 L257.97,107.28 L258.48,106.98 L259.00,106.68 L259.52,106.38 L260.04,106.07 L260.55,105.77 L261.07,105.46 L261.58,105.15 L262.10,104.84 L262.61,104.53 L263.12,104.22 L263.63,103.90 L264.14,103.59 L264.65,103.27 L265.16,102.95 L265.67,102.63 L266.18,102.31 L266.69,101.99 L267.19,101.67 L267.70,101.35 L268.20,101.02 L268.70,100.70 L269.21,100.37 L269.71,100.04 L270.21,99.71 L270.71,99.38 L271.21,99.04 L271.71,98.71 L272.20,98.37 L272.70,98.04 L273.20,97.70 L273.69,97.36 L274.18,97.02 L274.68,96.68 L275.17,96.33 L275.66,95.99 L276.15,95.64 L276.64,95.29 L277.13,94.94 L277.61,94.59 L278.10,94.24 L278.58,93.89 L279.07,93.53 L279.55,93.18 L280.03,92.82 L280.51,92.46 L280.99,92.10 L281.47,91.74 L281.95,91.37 L282.43,91.01 L282.90,90.64 L283.37,90.27 L283.85,89.91 L284.32,89.54 L284.79,89.16 L285.26,88.79 L285.73,88.42 L286.20,88.04 L286.66,87.66 L287.13,87.28 L287.59,86.90 L288.05,86.52 L288.51,86.14 L288.97,85.75 L289.43,85.36 L289.89,84.98 L290.35,84.59 L290.80,84.19 L291.26,83.80 L291.71,83.41 L292.16,83.01 L292.61,82.62 L293.06,82.22 L293.51,81.82 L293.95,81.42 L294.40,81.01 L294.84,80.61 L295.28,80.20 L295.72,79.79 L296.16,79.39 L296.60,78.97 L297.03,78.56 L297.47,78.15 L297.90,77.73 L298.33,77.32 L298.76,76.90 L299.19,76.48 L299.62,76.06 L300.05,75.64 L300.47,75.21 L300.89,74.79 L301.31,74.36 L301.73,73.93 L302.15,73.50 L302.57,73.07 L302.98,72.63 L303.40,72.20 L303.81,71.76 L304.22,71.32 L304.63,70.89 L305.03,70.44 L305.44,70.00 L305.84,69.56 L306.25,69.11 L306.65,68.67 L307.04,68.22 L307.44,67.77 L307.84,67.32 L308.23,66.87 L308.62,66.41 L309.01,65.96 L309.40,65.50 L309.79,65.04 L310.18,64.58 L310.56,64.12 L310.94,63.66 L311.32,63.19 L311.70,62.73 L312.08,62.26 L312.45,61.79 L312.83,61.32 L313.20,60.85 L313.57,60.38 L313.94,59.90 L314.30,59.43 L314.67,58.95 L315.03,58.47 L315.39,58.00 L315.75,57.51 L316.11,57.03 L316.46,56.55 L316.81,56.06 L317.17,55.58 L317.52,55.09 L317.86,54.60 L318.21,54.11 L318.56,53.62 L318.90,53.13 L319.24,52.64 L319.58,52.14 L319.92,51.64 L320.25,51.15 L320.58,50.65 L320.92,50.15 L321.25,49.65 L321.57,49.14 L321.90,48.64 L322.22,48.13 L322.55,47.63 L322.87,47.12 L323.18,46.61 L323.50,46.10 L323.82,45.59 L324.13,45.08 L324.44,44.57 L324.75,44.05 L325.06,43.54 L325.36,43.02 L325.66,42.50 L325.97,41.98 L326.27,41.46 L326.56,40.94 L326.86,40.42 L327.15,39.90 L327.45,39.38 L327.74,38.85 L328.02,38.32 L328.31,37.80 L328.60,37.27 L328.88,36.74 L329.16,36.21 L329.44,35.68 L329.72,35.15 L329.99,34.61 L330.27,34.08 L330.54,33.54 L330.81,33.01 L331.07,32.47 L331.34,31.93 L331.61,31.39 L331.87,30.86 L332.13,30.32 L332.39,29.77 L332.64,29.23 L332.90,28.69 L333.15,28.14 L333.40,27.60 L333.65,27.05 L333.90,26.51 L334.15,25.96 L334.39,25.41 L334.64,24.86 L334.88,24.31 L335.12,23.76 L335.35,23.21 L335.59,22.66 L335.82,22.11 L336.05,21.56 L336.29,21.00 L336.51,20.45 L336.74,19.89 L336.97,19.34 L337.19,18.78 L337.41,18.22 L337.63,17.66 L337.85,17.10 L338.07,16.54 L338.28,15.98 L338.50,15.42 L338.71,14.86 L338.92,14.30 L339.13,13.74 L339.33,13.17 L339.54,12.61 L339.74,12.05 L339.94,11.48 L340.14,10.92 L340.34,10.35 L340.54,9.78 L340.74,9.22 L340.93,8.65 L341.12,8.08 L341.31,7.51 L341.50,6.94 L341.69,6.37 L341.88,5.80 L342.06,5.23" stroke="#ff1616"/>
</g>
<g font-family="'Liberation Sans', sans-serif" font-size="9px" letter-spacing="-0.2" fill="#000">
<text x="34.70" y="246.1" text-anchor="middle">0.950</text>
<text x="123.70" y="246.1" text-anchor="middle">0.955</text>
<text x="213.70" y="246.1" text-anchor="middle">0.960</text>
<text x="302.70" y="246.1" text-anchor="middle">0.965</text>
<text x="392.70" y="246.1" text-anchor="middle">0.970</text>
<text x="32.4" y="239.20" text-anchor="end">0.4</text>
<text x="32.4" y="199.20" text-anchor="end">0.6</text>
<text x="32.4" y="158.20" text-anchor="end">0.8</text>
<text x="32.4" y="118.20" text-anchor="end">1.0</text>
<text x="32.4" y="78.20" text-anchor="end">1.2</text>
<text x="32.4" y="37.20" text-anchor="end">1.4</text>
</g>
<g font-family="'Liberation Serif', serif" font-style="italic" fill="#000">
<text x="214.3" y="262.9" font-size="13.5px" text-anchor="middle">E</text>
<text transform="translate(11.5,125.7) rotate(-90)" font-size="14px" text-anchor="middle">q</text>
</g>
<rect x="68.5" y="32.5" width="128" height="68" fill="#fff"/><path d="M68,32.5H197 M68,100.5H197 M68.5,32V101 M196.5,32V101" stroke="#000" stroke-opacity="0.1" stroke-width="1" fill="none"/>
<path d="M77.4,42.20 H127" stroke="#000000" stroke-width="1.8" fill="none"/>
<text x="137.00" y="42.80" font-family="'Liberation Serif', serif" fill="#000" font-size="12.7px" font-style="italic">q</text>
<text x="143.40" y="43.30" font-family="'Liberation Serif', serif" fill="#000" font-size="6px" font-style="italic" font-weight="bold">c</text>
<text transform="translate(149.60,43.70) scale(1.12,1)" font-family="'Liberation Serif', serif" fill="#000" font-size="12.7px">=</text>
<text x="161.30" y="42.80" font-family="'Liberation Serif', serif" fill="#000" font-size="12.7px">0</text>
<path d="M77.4,55.40 H127" stroke="#800080" stroke-width="1.8" fill="none"/>
<text x="135.00" y="55.90" font-family="'Liberation Serif', serif" fill="#000" font-size="12.7px" font-style="italic">q</text>
<text x="141.40" y="56.40" font-family="'Liberation Serif', serif" fill="#000" font-size="6px" font-style="italic" font-weight="bold">c</text>
<text transform="translate(147.60,56.80) scale(1.12,1)" font-family="'Liberation Serif', serif" fill="#000" font-size="12.7px">=</text>
<text x="159.30" y="55.90" font-family="'Liberation Serif', serif" fill="#000" font-size="12.7px">0.3</text>
<path d="M77.4,68.50 H127" stroke="#996633" stroke-width="1.8" fill="none"/>
<text x="135.00" y="69.00" font-family="'Liberation Serif', serif" fill="#000" font-size="12.7px" font-style="italic">q</text>
<text x="141.40" y="69.50" font-family="'Liberation Serif', serif" fill="#000" font-size="6px" font-style="italic" font-weight="bold">c</text>
<text transform="translate(147.60,69.90) scale(1.12,1)" font-family="'Liberation Serif', serif" fill="#000" font-size="12.7px">=</text>
<text x="159.30" y="69.00" font-family="'Liberation Serif', serif" fill="#000" font-size="12.7px">0.6</text>
<path d="M77.4,81.65 H127" stroke="#0000ff" stroke-width="1.8" fill="none"/>
<text x="135.00" y="82.10" font-family="'Liberation Serif', serif" fill="#000" font-size="12.7px" font-style="italic">q</text>
<text x="141.40" y="82.60" font-family="'Liberation Serif', serif" fill="#000" font-size="6px" font-style="italic" font-weight="bold">c</text>
<text transform="translate(147.60,83.00) scale(1.12,1)" font-family="'Liberation Serif', serif" fill="#000" font-size="12.7px">=</text>
<text x="159.30" y="82.10" font-family="'Liberation Serif', serif" fill="#000" font-size="12.7px">1.0</text>
<path d="M77.4,94.80 H127" stroke="#ff1616" stroke-width="1.8" fill="none"/>
<text x="135.00" y="95.20" font-family="'Liberation Serif', serif" fill="#000" font-size="12.7px" font-style="italic">q</text>
<text x="141.40" y="95.70" font-family="'Liberation Serif', serif" fill="#000" font-size="6px" font-style="italic" font-weight="bold">c</text>
<text transform="translate(147.60,96.10) scale(1.12,1)" font-family="'Liberation Serif', serif" fill="#000" font-size="12.7px">=</text>
<text x="159.30" y="95.20" font-family="'Liberation Serif', serif" fill="#000" font-size="12.7px">1.5</text>
</svg>
</body></html>
